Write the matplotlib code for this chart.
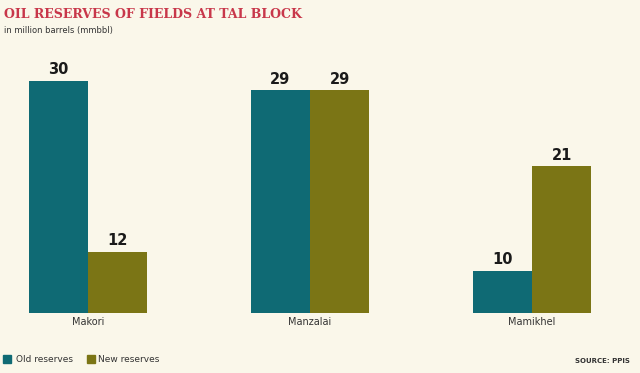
import numpy as np
import matplotlib.pyplot as plt

# Данные
fields = ['Makori', 'Manzalai', 'Mamikhel']
old_reserves = [30, 29, 10]
new_reserves = [12, 29, 21]

bg = '#faf7ea'
teal = '#0f6a74'
olive = '#7b7515'

fig = plt.figure(figsize=(6.4, 3.73), dpi=100, facecolor=bg)
# оси на всю ширину; базовая линия примерно на y=313 px
ax = fig.add_axes([0, 60 / 373, 1, 253 / 373])
ax.set_facecolor(bg)

x = np.arange(len(fields))
w = 0.268
b1 = ax.bar(x - w / 2, old_reserves, w, color=teal, label='Old reserves')
b2 = ax.bar(x + w / 2, new_reserves, w, color=olive, label='New reserves')

for bars in (b1, b2):
    for r in bars:
        ax.text(r.get_x() + r.get_width() / 2, r.get_height() + 0.4,
                str(int(r.get_height())), ha='center', va='bottom',
                fontsize=10.5, fontweight='bold', color='#1a1a1a')

# шкала не от нуля, как в оригинале
ax.set_ylim(5.58, 32.2)
ax.set_xlim(-88 / 222, (640 - 88) / 222)
ax.axis('off')

for xi, name in zip(x, fields):
    ax.text(xi, 5.58 - 0.45, name, ha='center', va='top', fontsize=7, color='#333333')

fig.text(4 / 640, 1 - 15 / 373, 'OIL RESERVES OF FIELDS AT TAL BLOCK', fontsize=9,
         fontweight='bold', family='DejaVu Serif', color='#c8374a', va='center')
fig.text(4 / 640, 1 - 30 / 373, 'in million barrels (mmbbl)', fontsize=6, color='#333333', va='center')

# легенда
fig.patches.append(plt.Rectangle((3 / 640, 1 - 363 / 373), 8 / 640, 8 / 373,
                                 transform=fig.transFigure, color=teal))
fig.text(16 / 640, 1 - 359 / 373, 'Old reserves', fontsize=6.5, color='#333333', va='center')
fig.patches.append(plt.Rectangle((87 / 640, 1 - 363 / 373), 8 / 640, 8 / 373,
                                 transform=fig.transFigure, color=olive))
fig.text(98 / 640, 1 - 359 / 373, 'New reserves', fontsize=6.5, color='#333333', va='center')
fig.text(630 / 640, 1 - 361 / 373, 'SOURCE: PPIS', fontsize=5, fontweight='bold',
         color='#333333', ha='right', va='center')

plt.savefig('out.png', dpi=100, facecolor=bg)
